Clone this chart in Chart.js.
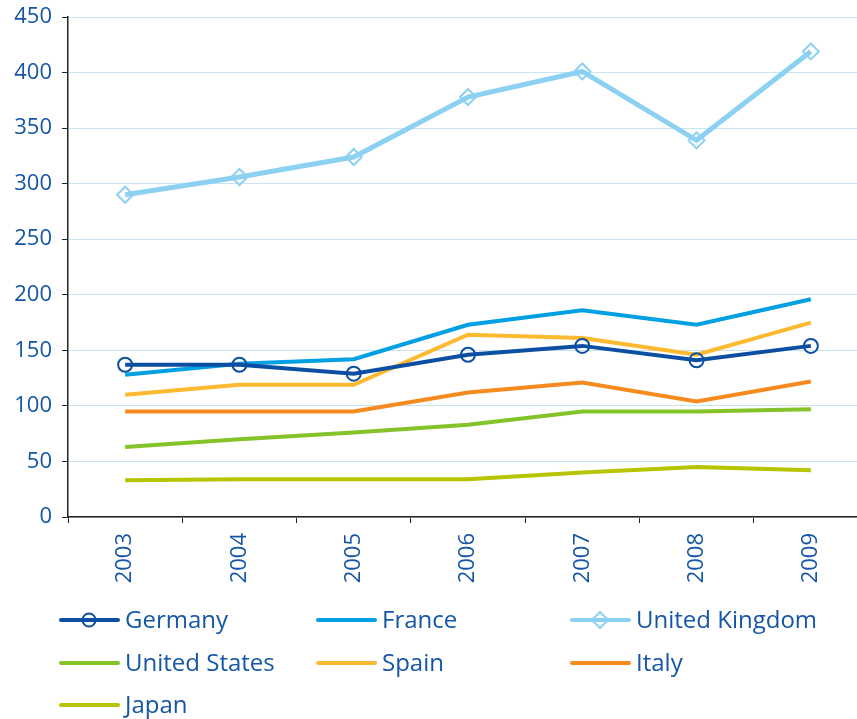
<!DOCTYPE html>
<html>
<head>
<meta charset="utf-8">
<script src="https://cdn.jsdelivr.net/npm/chart.js@4.4.1/dist/chart.umd.min.js"></script>
<style>
  html, body { margin: 0; padding: 0; background: #fff; overflow: hidden; }
  #wrap { width: 870px; height: 719px; }
</style>
</head>
<body>
<div id="wrap"><canvas id="c" width="870" height="719"></canvas></div>
<script>
const years = ['2003', '2004', '2005', '2006', '2007', '2008', '2009'];
const yTicks = [0, 50, 100, 150, 200, 250, 300, 350, 400, 450];

const germany = [137, 137, 129, 146, 154, 141, 154];
const france = [128, 138, 142, 173, 186, 173, 196];
const unitedKingdom = [290, 306, 324, 378, 401, 339, 419];
const unitedStates = [63, 70, 76, 83, 95, 95, 97];
const spain = [110, 119, 119, 164, 161, 146, 175];
const italy = [95, 95, 95, 112, 121, 104, 122];
const japan = [33, 34, 34, 34, 40, 45, 42];

const TEXT = '#1556a6';
const FONT = "'Open Sans', 'Liberation Sans', sans-serif";

function ds(label, data, color, extra) {
  return Object.assign({
    label, data,
    borderColor: color,
    backgroundColor: color,
    borderWidth: 4,
    pointRadius: 0,
    pointHoverRadius: 0,
    tension: 0,
    fill: false
  }, extra || {});
}

const datasets = [
  ds('Germany', germany, '#0c4fa2', { pointStyle: 'circle', pointRadius: 7, pointBorderWidth: 2, pointBackgroundColor: 'rgba(0,0,0,0)', pointBorderColor: '#0c4fa2' }),
  ds('France', france, '#00a0e3'),
  ds('United Kingdom', unitedKingdom, '#8dd1f2', { borderWidth: 5, pointStyle: 'rectRot', pointRadius: 8, pointBorderWidth: 2, pointBackgroundColor: 'rgba(0,0,0,0)', pointBorderColor: '#8dd1f2' }),
  ds('United States', unitedStates, '#84c329'),
  ds('Spain', spain, '#fdb92f'),
  ds('Italy', italy, '#f58b1f'),
  ds('Japan', japan, '#b7c400')
];
datasets.forEach((d, i) => { d.order = i; });

const legendCols = [61, 318, 572];
const legendRows = [620, 663, 705];

const legendPlugin = {
  id: 'gridLegend',
  afterDraw(chart) {
    const ctx = chart.ctx;
    ctx.save();
    chart.data.datasets.forEach((d, i) => {
      const x = legendCols[i % 3];
      const y = legendRows[Math.floor(i / 3)];
      ctx.strokeStyle = d.borderColor;
      ctx.lineWidth = 4;
      ctx.lineCap = 'round';
      ctx.beginPath();
      ctx.moveTo(x, y);
      ctx.lineTo(x + 57, y);
      ctx.stroke();
      if (d.pointStyle === 'circle') {
        ctx.lineWidth = 2;
        ctx.beginPath();
        ctx.arc(x + 28, y, 6.5, 0, Math.PI * 2);
        ctx.stroke();
      } else if (d.pointStyle === 'rectRot') {
        ctx.lineWidth = 2;
        ctx.beginPath();
        ctx.moveTo(x + 28, y - 8);
        ctx.lineTo(x + 36, y);
        ctx.lineTo(x + 28, y + 8);
        ctx.lineTo(x + 20, y);
        ctx.closePath();
        ctx.stroke();
      }
      ctx.fillStyle = TEXT;
      ctx.font = '24px ' + FONT;
      ctx.textBaseline = 'middle';
      ctx.textAlign = 'left';
      ctx.fillText(d.label, x + 64, y + 1);
    });
    ctx.restore();
  }
};

new Chart(document.getElementById('c'), {
  type: 'line',
  data: { labels: years, datasets },
  options: {
    responsive: false,
    animation: false,
    devicePixelRatio: 1,
    layout: { autoPadding: false, padding: { top: 17, right: 2, bottom: 119, left: 0 } },
    plugins: {
      legend: { display: false },
      tooltip: { enabled: false }
    },
    scales: {
      x: {
        type: 'category',
        offset: true,
        afterFit(s) { s.height = 83; s.paddingLeft = 0; s.paddingRight = 0; },
        grid: {
          display: true,
          drawOnChartArea: false,
          drawTicks: true,
          tickLength: 6,
          tickColor: '#222',
          offset: true
        },
        border: { display: true, color: '#222', width: 1.5 },
        ticks: {
          color: TEXT,
          font: { family: FONT, size: 22 },
          minRotation: 90,
          maxRotation: 90,
          padding: 10
        }
      },
      y: {
        min: 0,
        max: 450,
        afterFit(s) { s.width = 68; s.paddingTop = 0; s.paddingBottom = 0; },
        afterBuildTicks(s) { s.ticks = yTicks.map(v => ({ value: v })); },
        grid: {
          color: '#c6e4f2',
          lineWidth: 1,
          drawTicks: true,
          tickLength: 6,
          tickColor: '#222'
        },
        border: { display: true, color: '#222', width: 1.5 },
        ticks: {
          color: TEXT,
          font: { family: FONT, size: 22 },
          padding: 10
        }
      }
    }
  },
  plugins: [legendPlugin]
});
</script>
</body>
</html>
